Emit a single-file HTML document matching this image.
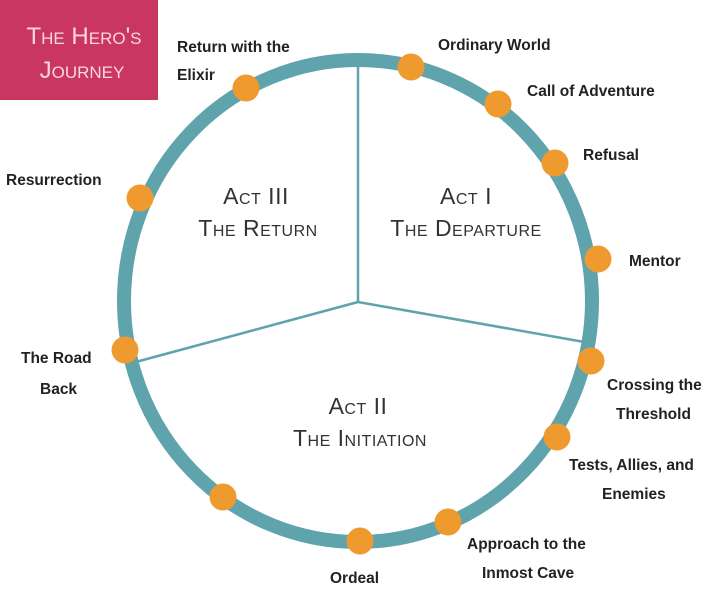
<!DOCTYPE html>
<html><head><style>body{margin:0;background:#fff}svg{display:block}
text{font-family:"Liberation Sans",sans-serif}
.l{font-size:15.5px;font-weight:bold;fill:#222}
.a{font-size:23px;fill:#333;text-anchor:middle;font-variant:small-caps;letter-spacing:0.5px}
</style></head><body>
<svg width="720" height="603" viewBox="0 0 720 603">
<rect x="0" y="0" width="158" height="100" fill="#c9365f"/>
<text x="84" y="44" text-anchor="middle" fill="#fbd6e0" style="font-size:24px;font-variant:small-caps">The Hero's</text>
<text x="82" y="78" text-anchor="middle" fill="#fbd6e0" style="font-size:24px;font-variant:small-caps">Journey</text>
<ellipse cx="358" cy="301" rx="234" ry="241" fill="none" stroke="#5fa3ad" stroke-width="14"/>
<g stroke="#5fa3ad" stroke-width="2.5">
<line x1="358" y1="302" x2="358" y2="62"/>
<line x1="358" y1="302" x2="590" y2="343"/>
<line x1="358" y1="302" x2="132" y2="363"/>
</g>
<g fill="#ef9a2e">
<circle cx="411" cy="67" r="13.5"/><circle cx="498" cy="104" r="13.5"/><circle cx="555" cy="163" r="13.5"/>
<circle cx="598" cy="259" r="13.5"/><circle cx="591" cy="361" r="13.5"/><circle cx="557" cy="437" r="13.5"/>
<circle cx="448" cy="522" r="13.5"/><circle cx="360" cy="541" r="13.5"/><circle cx="223" cy="497" r="13.5"/>
<circle cx="125" cy="350" r="13.5"/><circle cx="140" cy="198" r="13.5"/><circle cx="246" cy="88" r="13.5"/>
</g>
<text class="a" x="256" y="204">Act III</text><text class="a" x="258" y="236">The Return</text>
<text class="a" x="466" y="204">Act I</text><text class="a" x="466" y="236">The Departure</text>
<text class="a" x="358" y="414">Act II</text><text class="a" x="360" y="446">The Initiation</text>
<text class="l" x="177" y="52">Return with the</text><text class="l" x="177" y="80">Elixir</text>
<text class="l" x="438" y="50">Ordinary World</text>
<text class="l" x="527" y="96">Call of Adventure</text>
<text class="l" x="583" y="160">Refusal</text>
<text class="l" x="629" y="266">Mentor</text>
<text class="l" x="6" y="185">Resurrection</text>
<text class="l" x="21" y="363">The Road</text><text class="l" x="40" y="394">Back</text>
<text class="l" x="607" y="390">Crossing the</text><text class="l" x="616" y="419">Threshold</text>
<text class="l" x="569" y="470">Tests, Allies, and</text><text class="l" x="602" y="499">Enemies</text>
<text class="l" x="467" y="549">Approach to the</text><text class="l" x="482" y="578">Inmost Cave</text>
<text class="l" x="330" y="583">Ordeal</text>
</svg>
</body></html>
